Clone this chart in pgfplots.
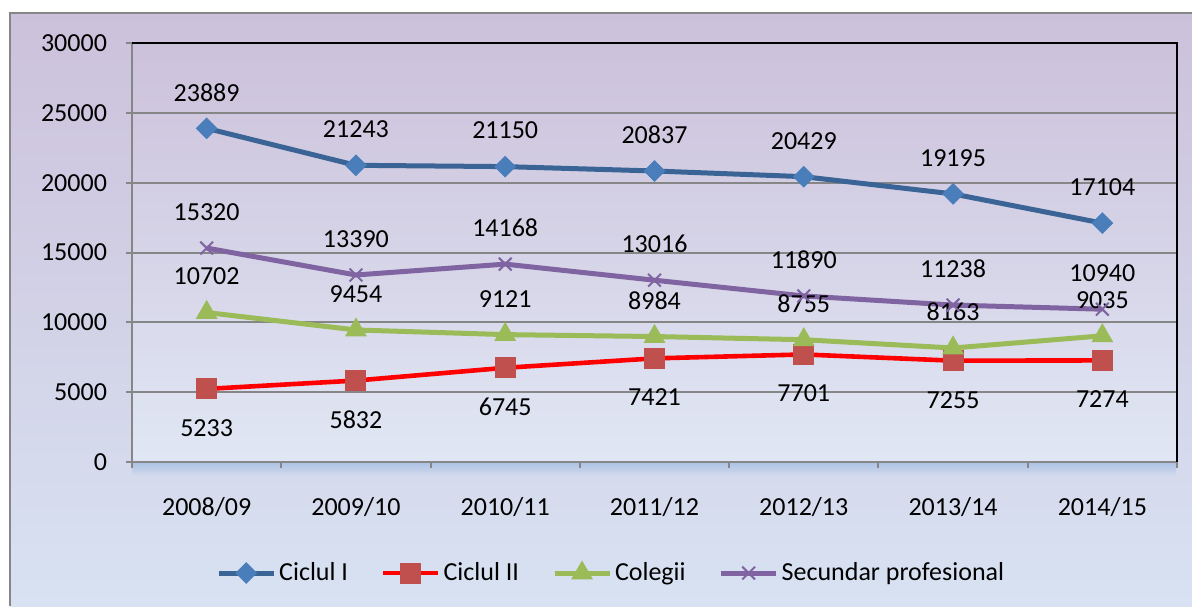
\documentclass[border=0pt]{standalone}
\usepackage{pgfplots}
\pgfplotsset{compat=1.18}
\usepackage{fontspec}
\setmainfont{Carlito}
\usetikzlibrary{fadings}
\definecolor{bgtop}{RGB}{204,193,219}
\definecolor{bgbot}{RGB}{216,226,242}
\definecolor{patop}{RGB}{204,193,219}
\definecolor{pabot}{RGB}{224,231,244}
\definecolor{gridc}{RGB}{134,134,134}
\definecolor{c1line}{RGB}{59,100,150}
\definecolor{c1mark}{RGB}{74,126,187}
\definecolor{c2line}{RGB}{255,0,0}
\definecolor{c2mark}{RGB}{192,80,77}
\definecolor{c3}{RGB}{155,187,89}
\definecolor{c4}{RGB}{128,100,162}
\definecolor{shadowc}{RGB}{170,195,228}
\pgfplotsset{/pgf/number format/.cd, 1000 sep={}, assume math mode=true}
\newcommand{\cf}{\fontsize{13}{15}\selectfont}
\begin{document}
\begin{tikzpicture}
\path[use as bounding box] (0,0) rectangle (596pt,303pt);
\shade[top color=bgtop, bottom color=bgbot] (5pt,0) rectangle (596pt,296.5pt);
\draw[gridc, line width=1pt] (5pt,0) -- (5pt,296.5pt) -- (596pt,296.5pt);
\fill[shadowc, path fading=south] (66pt,65pt) rectangle (588.5pt,72pt);
\begin{axis}[
  at={(66pt,72pt)}, anchor=south west, scale only axis,
  width=522.5pt, height=209.5pt,
  xmin=-0.5, xmax=6.5, ymin=0, ymax=30000,
  clip=false,
  scaled y ticks=false,
  axis lines=left, axis line style={-, gridc, line width=1pt},
  axis background/.style={top color=patop, bottom color=pabot},
  ytick={0,5000,...,30000},
  xtick={-0.5,0.5,1.5,2.5,3.5,4.5,5.5,6.5},
  x tick label as interval,
  xticklabels={2008/09,2009/10,2010/11,2011/12,2012/13,2013/14,2014/15},
  tick align=outside, major tick length=3pt,
  tick style={gridc, line width=1pt},
  ymajorgrids, grid style={gridc, line width=1pt},
  tick label style={font=\cf, black},
  yticklabel style={xshift=-6pt},
  xticklabel style={yshift=-11pt},
  nodes near coords,
  every node near coord/.append style={font=\cf, black, anchor=center},
  legend columns=4,
  legend style={at={(0.459,-0.265)}, anchor=center, draw=none, fill=none, font=\cf,
    nodes={inner xsep=1.5pt},
    /tikz/every even column/.append style={column sep=15pt}},
  legend image code/.code={\draw[mark repeat=2,mark phase=2] plot coordinates {(0pt,0pt)(13.75pt,0pt)(27.5pt,0pt)};},
]
\addplot[c1line, line width=2.5pt, mark=square*, mark size=3.6pt,
  mark options={fill=c1mark, draw=c1mark, rotate=45, line width=0.5pt},
  every node near coord/.append style={yshift=18pt}]
  coordinates {(0,23889)(1,21243)(2,21150)(3,20837)(4,20429)(5,19195)(6,17104)};
\addlegendentry{Ciclul I}
\addplot[c2line, line width=2.3pt, mark=square*, mark size=5pt,
  mark options={fill=c2mark, draw=c2mark, line width=0.5pt},
  every node near coord/.append style={yshift=-19.5pt}]
  coordinates {(0,5233)(1,5832)(2,6745)(3,7421)(4,7701)(5,7255)(6,7274)};
\addlegendentry{Ciclul II}
\addplot[c3, line width=2.5pt, mark=triangle*, mark size=5.8pt,
  mark options={fill=c3, draw=c3, line width=0.5pt},
  every node near coord/.append style={yshift=18pt}]
  coordinates {(0,10702)(1,9454)(2,9121)(3,8984)(4,8755)(5,8163)(6,9035)};
\addlegendentry{Colegii}
\addplot[c4, line width=2.5pt, mark=x, mark size=4.5pt,
  mark options={draw=c4, line width=1pt},
  every node near coord/.append style={yshift=18pt}]
  coordinates {(0,15320)(1,13390)(2,14168)(3,13016)(4,11890)(5,11238)(6,10940)};
\addlegendentry{Secundar profesional}
\draw[black, line width=1pt] (rel axis cs:0,1) -- (rel axis cs:1,1) -- (rel axis cs:1,0);
\end{axis}
\end{tikzpicture}
\end{document}
